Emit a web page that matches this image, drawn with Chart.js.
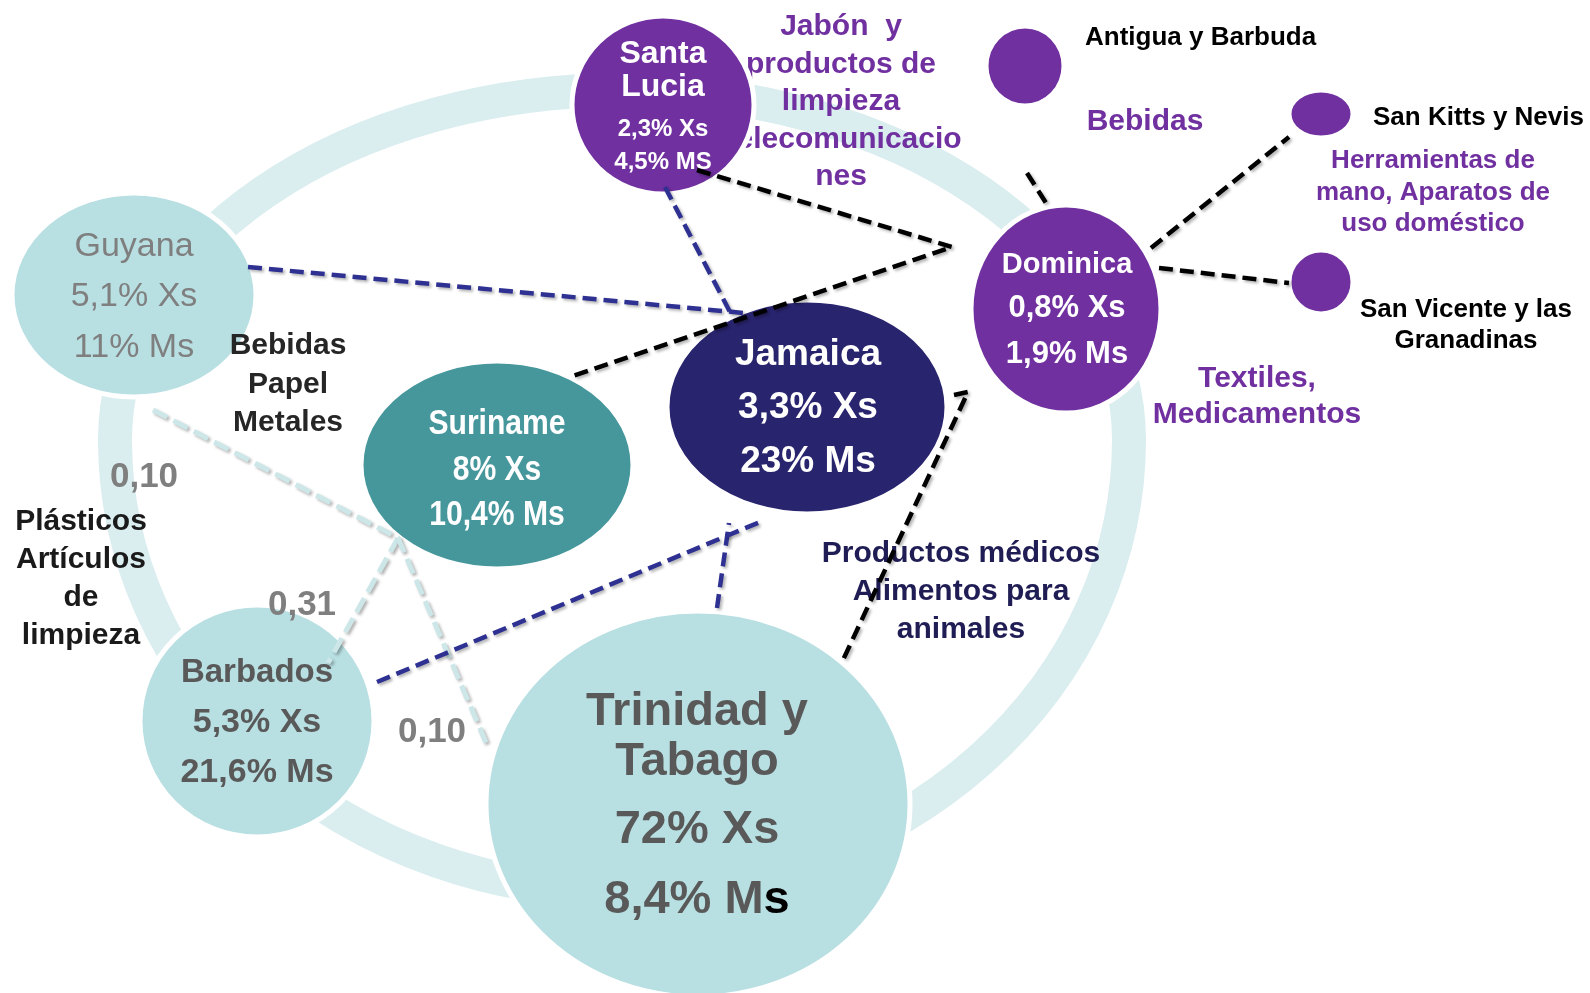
<!DOCTYPE html>
<html lang="es">
<head>
<meta charset="utf-8">
<title>Comercio intrarregional</title>
<script src="https://cdn.jsdelivr.net/npm/chart.js@4.4.1/dist/chart.umd.min.js"></script>
<style>
  html, body { margin: 0; padding: 0; background: #fff; }
  #wrap { width: 1590px; height: 993px; }
</style>
</head>
<body>
<div id="wrap"><canvas id="tradeChart" width="1590" height="993"></canvas></div>
<script>
// Datos
const countries = ['Santa\nLucia', 'Antigua y Barbuda', 'San Kitts y Nevis', 'San Vicente y las\nGranadinas',
	'Dominica', 'Guyana', 'Suriname', 'Jamaica', 'Barbados', 'Trinidad y\nTabago'];
const xsShare = [2.3, null, null, null, 0.8, 5.1, 8, 3.3, 5.3, 72];
const msShare = [4.5, null, null, null, 1.9, 11, 10.4, 23, 21.6, 8.4];
const msUnit = ['MS', '', '', '', 'Ms', 'Ms', 'Ms', 'Ms', 'Ms', 'Ms'];
const products = [
	['Jabón  y', 'productos de', 'limpieza', 'Telecomunicacio', 'nes'],
	['Bebidas'],
	['Herramientas de', 'mano, Aparatos de', 'uso doméstico'],
	['Textiles,', 'Medicamentos'],
	['Productos médicos', 'Alimentos para', 'animales'],
	['Bebidas', 'Papel', 'Metales'],
	['Plásticos', 'Artículos', 'de', 'limpieza']
];
const linkValues = [0.10, 0.31, 0.10];

const fmt = v => String(v).replace('.', ',');

// Disposición del diagrama
const FONT = '"Liberation Sans", Arial, sans-serif';
const PURPLE = '#7030a0';
const LIGHT = '#b8dfe2';

const nodePos = [
	{ x: 663, y: 105, rx: 91, ry: 89, fill: PURPLE },
	{ x: 1025, y: 66, rx: 39, ry: 40, fill: PURPLE },
	{ x: 1321, y: 114, rx: 32, ry: 24, fill: PURPLE },
	{ x: 1321, y: 282, rx: 32, ry: 32, fill: PURPLE },
	{ x: 1066, y: 309, rx: 95, ry: 104, fill: PURPLE },
	{ x: 134, y: 295, rx: 122, ry: 102, fill: LIGHT },
	{ x: 497, y: 465, rx: 136, ry: 104, fill: '#46979c' },
	{ x: 807, y: 407, rx: 140, ry: 107, fill: '#29246e' },
	{ x: 257, y: 721, rx: 117, ry: 116, fill: LIGHT },
	{ x: 698, y: 804, rx: 212, ry: 193, fill: LIGHT }
];

// texto dentro de los nodos (null = etiqueta fuera)
const nodeText = [
	{ x: 663, base: [63, 96, 136, 169], size: [32, 32, 24, 24], color: '#fff' },
	null, null, null,
	{ x: 1067, base: [273, 317, 363], size: [29, 31, 31], color: '#fff' },
	{ x: 134, base: [256, 306, 357], size: [34, 34, 34], color: '#7f7f7f', weight: 'normal' },
	{ x: 497, base: [434, 480, 525], size: [35, 35, 35], color: '#fff', squeeze: 0.86 },
	{ x: 808, base: [365, 418, 472], size: [37, 37, 37], color: '#fff' },
	{ x: 257, base: [682, 732, 782], size: [33, 34, 34], color: '#595959' },
	{ x: 697, base: [725, 775, 843, 913], size: [47, 47, 47, 47], color: '#595959', lastS: '#000' }
];

// etiquetas de países fuera de los nodos
const outerNames = [
	{ node: 1, x: 1085, base: [45], align: 'left' },
	{ node: 2, x: 1373, base: [125], align: 'left' },
	{ node: 3, x: 1466, base: [317, 348], align: 'center' }
];

// under: el grupo queda detrás de los nodos
const productPos = [
	{ x: 841, base: 35, step: 37.5, size: 30, color: PURPLE, under: true },
	{ x: 1145, base: 130, step: 0, size: 30, color: PURPLE },
	{ x: 1433, base: 168, step: 31.5, size: 26, color: PURPLE },
	{ x: 1257, base: 387, step: 36, size: 30, color: PURPLE },
	{ x: 961, base: 562, step: 38, size: 30, color: '#201d55' },
	{ x: 288, base: 354, step: 38.5, size: 30, color: '#262626' },
	{ x: 81, base: 530, step: 38, size: 30, color: '#1a1a1a' }
];

const linkLabelPos = [{ x: 144, y: 487 }, { x: 302, y: 615 }, { x: 432, y: 742 }];

// anillo de fondo: media elipse superior e inferior
const ring = { x: 622, y: 440, rx: 507, ryTop: 350, ryBottom: 452, width: 34, color: '#daedef' };

const links = [
	{ pts: [[697, 170], [952, 247], [570, 377]], color: '#000' },
	{ pts: [[1027, 173], [1046, 203]], color: '#000' },
	{ pts: [[1151, 248], [1289, 137]], color: '#000' },
	{ pts: [[1159, 268], [1289, 283]], color: '#000' },
	{ pts: [[954, 395], [968, 392], [843, 660]], color: '#000' },
	{ pts: [[248, 267], [744, 313]], color: '#2e3192' },
	{ pts: [[665, 187], [730, 312]], color: '#2e3192' },
	{ pts: [[377, 682], [760, 522]], color: '#2e3192' },
	{ pts: [[717, 608], [729, 523]], color: '#2e3192' },
	{ pts: [[153, 410], [398, 538], [488, 747]], color: '#cde7e9', light: true },
	{ pts: [[398, 538], [328, 663]], color: '#cde7e9', light: true }
];

function drawText(ctx, text, x, y, size, color, opts) {
	opts = opts || {};
	ctx.save();
	ctx.font = (opts.weight || 'bold') + ' ' + size + 'px ' + FONT;
	ctx.fillStyle = color;
	ctx.textAlign = opts.align || 'center';
	ctx.textBaseline = 'alphabetic';
	ctx.translate(x, y);
	ctx.scale(opts.squeeze || 1, 1);
	ctx.fillText(text, 0, 0);
	ctx.restore();
}

const diagramPlugin = {
	id: 'diagram',
	beforeDatasetsDraw(chart) {
		const ctx = chart.ctx;
		const sx = chart.scales.x, sy = chart.scales.y;
		const px = v => sx.getPixelForValue(v);
		const py = v => sy.getPixelForValue(v);
		const dx = (c, r) => Math.abs(px(c + r) - px(c));
		const dy = (c, r) => Math.abs(py(c + r) - py(c));

		const drawProducts = under => products.forEach((lines, i) => {
			const p = productPos[i];
			if (!!p.under !== under) return;
			lines.forEach((t, j) => drawText(ctx, t, px(p.x), py(p.base + j * p.step), p.size, p.color));
		});

		// anillo
		ctx.save();
		ctx.strokeStyle = ring.color;
		ctx.lineWidth = ring.width;
		ctx.beginPath();
		ctx.ellipse(px(ring.x), py(ring.y), dx(ring.x, ring.rx), dy(ring.y, ring.ryTop), 0, Math.PI, 2 * Math.PI);
		ctx.ellipse(px(ring.x), py(ring.y), dx(ring.x, ring.rx), dy(ring.y, ring.ryBottom), 0, 0, Math.PI);
		ctx.closePath();
		ctx.stroke();
		ctx.restore();

		drawProducts(true);

		// nodos
		nodePos.forEach(n => {
			ctx.save();
			ctx.beginPath();
			ctx.ellipse(px(n.x), py(n.y), dx(n.x, n.rx), dy(n.y, n.ry), 0, 0, 2 * Math.PI);
			ctx.fillStyle = n.fill;
			ctx.fill();
			ctx.lineWidth = 5;
			ctx.strokeStyle = '#fff';
			ctx.stroke();
			ctx.restore();
		});

		drawProducts(false);

		// nombres fuera de los nodos
		outerNames.forEach(o => {
			countries[o.node].split('\n').forEach((t, j) =>
				drawText(ctx, t, px(o.x), py(o.base[j]), 26, '#000', { align: o.align }));
		});

		// valores de enlace
		linkValues.forEach((v, i) => {
			const p = linkLabelPos[i];
			drawText(ctx, v.toFixed(2).replace('.', ','), px(p.x), py(p.y), 35, '#7f7f7f');
		});

		// texto de los nodos
		nodeText.forEach((t, i) => {
			if (!t) return;
			const lines = countries[i].split('\n');
			lines.push(fmt(xsShare[i]) + '% Xs', fmt(msShare[i]) + '% ' + msUnit[i]);
			lines.forEach((s, j) => {
				const opts = { weight: t.weight, squeeze: t.squeeze };
				const isLast = j === lines.length - 1;
				if (t.lastS && isLast) {
					ctx.font = 'bold ' + t.size[j] + 'px ' + FONT;
					const w = ctx.measureText(s).width;
					const head = s.slice(0, -1);
					const left = px(t.x) - w / 2;
					drawText(ctx, head, left, py(t.base[j]), t.size[j], t.color, { align: 'left' });
					ctx.font = 'bold ' + t.size[j] + 'px ' + FONT;
					drawText(ctx, s.slice(-1), left + ctx.measureText(head).width, py(t.base[j]), t.size[j], t.lastS, { align: 'left' });
				} else {
					drawText(ctx, s, px(t.x), py(t.base[j]), t.size[j], t.color, opts);
				}
			});
		});
	},
	beforeDatasetDraw(chart) {
		const ctx = chart.ctx;
		ctx.save();
		ctx.shadowColor = 'rgba(0,0,0,0.3)';
		ctx.shadowBlur = 3;
		ctx.shadowOffsetX = 2;
		ctx.shadowOffsetY = 2;
	},
	afterDatasetDraw(chart) {
		chart.ctx.restore();
	}
};

const ctx = document.getElementById('tradeChart').getContext('2d');
new Chart(ctx, {
	type: 'scatter',
	data: {
		datasets: links.map(l => ({
			data: l.pts.map(p => ({ x: p[0], y: p[1] })),
			showLine: true,
			borderColor: l.color,
			borderWidth: l.light ? 5 : 4.5,
			borderDash: l.light ? [16, 7] : [14, 7],
			borderCapStyle: 'butt',
			borderJoinStyle: 'miter',
			pointRadius: 0,
			tension: 0,
			clip: false
		}))
	},
	options: {
		responsive: false,
		animation: false,
		layout: { padding: 0 },
		plugins: {
			legend: { display: false },
			tooltip: { enabled: false }
		},
		scales: {
			x: { type: 'linear', min: 0, max: 1590, display: false },
			y: { type: 'linear', min: 0, max: 993, reverse: true, display: false }
		}
	},
	plugins: [diagramPlugin]
});
</script>
</body>
</html>
